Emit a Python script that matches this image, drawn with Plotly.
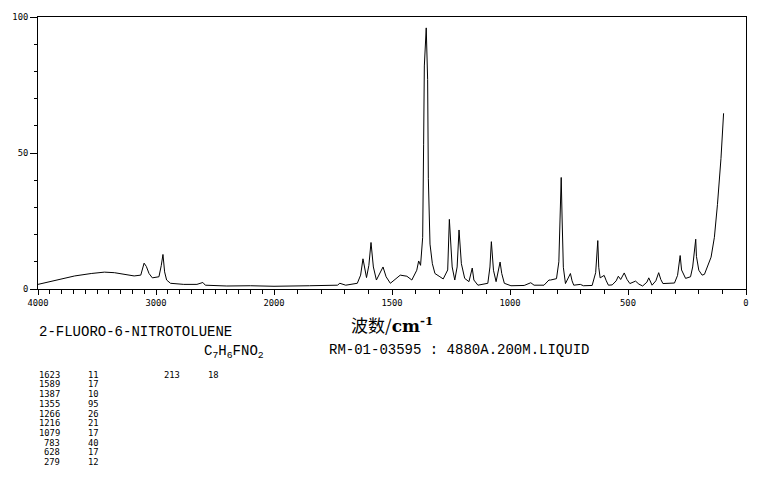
import plotly.graph_objects as go

# ---- Spectrum (Raman), wavenumber in cm-1, intensity in % ----
wavenumber = [
    4000, 3857, 3689, 3549, 3437, 3353, 3269, 3185, 3129, 3101, 3082, 3059, 3031,
    2975, 2955, 2941, 2927, 2910, 2877, 2765, 2653, 2603, 2582, 2513, 2400, 2200,
    2000, 1850, 1760, 1731, 1721, 1696, 1647, 1633, 1623, 1608, 1598, 1589, 1579,
    1566, 1538, 1525, 1507, 1486, 1465, 1437, 1416, 1395, 1387, 1379, 1370, 1366,
    1363, 1355, 1349, 1346, 1339, 1329, 1318, 1297, 1283, 1264, 1257, 1245, 1234,
    1224, 1216, 1206, 1192, 1174, 1160, 1153, 1136, 1094, 1085, 1079, 1070, 1059,
    1049, 1042, 1035, 1024, 996, 940, 912, 898, 856, 835, 828, 815, 803, 793, 788,
    783, 779, 774, 765, 752, 744, 737, 730, 702, 689, 652, 637, 628, 624, 618, 601,
    592, 583, 567, 550, 541, 531, 516, 504, 492, 468, 454, 438, 420, 412, 398, 382,
    370, 361, 352, 324, 303, 290, 279, 273, 256, 235, 226, 213, 210, 200, 186, 176,
    163, 148, 134, 121, 106, 95,
]
intensity = [
    1.7, 3.0, 4.8, 5.7, 6.2, 6.0, 5.4, 4.8, 5.1, 9.5, 8.3, 5.7, 4.1,
    4.5, 8.7, 12.7, 6.3, 3.3, 2.1, 1.7, 1.7, 2.4, 1.4, 1.3, 1.1, 1.2,
    1.0, 1.2, 1.3, 1.4, 2.1, 1.4, 2.1, 5.1, 11.1, 4.2, 8.7, 17.1, 8.1,
    3.3, 8.1, 4.5, 2.1, 3.5, 5.1, 4.7, 3.3, 6.9, 10.3, 8.7, 19.0, 53.0,
    82.0, 96.0, 77.0, 40.7, 16.5, 9.3, 5.7, 4.5, 3.7, 7.0, 25.6, 8.1, 3.3,
    8.1, 21.7, 9.3, 3.9, 2.7, 7.7, 3.3, 1.4, 2.1, 8.1, 17.4, 6.9, 2.7,
    6.3, 9.9, 5.7, 2.1, 1.2, 1.3, 2.3, 1.4, 1.4, 3.3, 3.3, 3.5, 3.8, 10.0, 30.0,
    41.0, 25.0, 8.0, 2.0, 4.0, 5.7, 3.0, 1.4, 1.7, 1.2, 1.3, 6.0, 17.8, 8.0, 4.1, 5.0,
    3.0, 1.4, 1.5, 3.0, 4.7, 3.5, 5.9, 3.5, 2.0, 2.9, 1.8, 1.1, 2.5, 4.1, 1.4, 3.0,
    6.0, 3.5, 2.0, 2.0, 2.2, 5.0, 12.3, 7.0, 3.9, 4.5, 8.1, 18.3, 12.0, 6.9, 5.1, 5.4,
    8.1, 11.7, 19.0, 31.0, 48.0, 64.6,
]

# ---- Peak table ----
peak_wn = [1623, 1589, 1387, 1355, 1266, 1216, 1079, 783, 628, 279, 213]
peak_int = [11, 17, 10, 95, 26, 21, 17, 40, 17, 12, 18]

# ---- Tick labels ----
x_labels = [4000, 3000, 2000, 1500, 1000, 500, 0]
x_minor = list(range(0, 4001, 100))
y_labels = [0, 50, 100]

compound = "2-FLUORO-6-NITROTOLUENE"
formula = "C<sub>7</sub>H<sub>6</sub>FNO<sub>2</sub>"
sample = "RM-01-03595 : 4880A.200M.LIQUID"


def axis_pos(w):
    # spectrometer scale: above 2000 cm-1 the axis is compressed by half
    return w if w <= 2000 else 2000 + (w - 2000) / 2


W, H = 761, 477
ML, MR, MT, MB = 33, 14, 13, 188
PW, PH = W - ML - MR, H - MT - MB


def px(x):
    return (x - ML) / PW


def py(y):
    return (H - MB - y) / PH


mono = "Liberation Mono, DejaVu Sans Mono, monospace"
small = "DejaVu Sans Mono, monospace"

fig = go.Figure()
fig.add_trace(go.Scatter(
    x=[axis_pos(w) for w in wavenumber], y=intensity,
    mode="lines", line=dict(color="black", width=1), hoverinfo="skip",
))

annotations = [
    dict(text="波数/<span style='font-family:DejaVu Serif;font-weight:bold'>cm<sup>-1</sup></span>",
         x=px(390), y=py(325), xanchor="center", yanchor="middle",
         font=dict(family="Noto Sans CJK SC", size=17, color="black")),
    dict(text=compound, x=px(32), y=py(333), xanchor="left", yanchor="middle",
         font=dict(family=mono, size=14, color="black")),
    dict(text=formula, x=px(198), y=py(353), xanchor="left", yanchor="middle",
         font=dict(family=mono, size=14, color="black")),
    dict(text=sample, x=px(324), y=py(351), xanchor="left", yanchor="middle",
         font=dict(family=mono, size=14, color="black")),
]

row_h = 9.84
for i, (wn, it) in enumerate(zip(peak_wn, peak_int)):
    if i < 10:
        yy = 376 + row_h * i
        c1, c2 = 57, 97
    else:
        yy = 376 + row_h * (i - 10)
        c1, c2 = 178, 218
    annotations.append(dict(text=str(wn), x=px(c1), y=py(yy), xanchor="right", yanchor="middle",
                            font=dict(family=small, size=8.8, color="black")))
    annotations.append(dict(text=str(it), x=px(c2), y=py(yy), xanchor="right", yanchor="middle",
                            font=dict(family=small, size=8.8, color="black")))

for a in annotations:
    a.update(xref="paper", yref="paper", showarrow=False)

fig.update_layout(
    width=W, height=H,
    margin=dict(l=ML, r=MR, t=MT, b=MB),
    paper_bgcolor="white", plot_bgcolor="white",
    showlegend=False,
    annotations=annotations,
    xaxis=dict(
        range=[axis_pos(4000), axis_pos(0)],
        tickmode="array",
        tickvals=[axis_pos(v) for v in x_labels],
        ticktext=[str(v) for v in x_labels],
        ticks="outside", ticklen=5, tickcolor="black", tickwidth=1,
        minor=dict(tickmode="array", tickvals=[axis_pos(v) for v in x_minor],
                   ticks="outside", ticklen=4, tickcolor="black", tickwidth=1),
        showline=True, linecolor="black", linewidth=1, mirror=True,
        showgrid=False, zeroline=False,
        tickfont=dict(family=small, size=8.8, color="black"),
    ),
    yaxis=dict(
        range=[0, 100],
        tickmode="array",
        tickvals=y_labels,
        ticktext=[str(v) for v in y_labels],
        ticks="outside", ticklen=7, tickcolor="black", tickwidth=1,
        minor=dict(dtick=10, tick0=0, ticks="outside", ticklen=3, tickcolor="black", tickwidth=1),
        showline=True, linecolor="black", linewidth=1, mirror=True,
        showgrid=False, zeroline=False,
        tickfont=dict(family=small, size=8.8, color="black"),
    ),
)

fig.write_html(
    "out.html",
    config={"displayModeBar": False},
    post_script="document.body.style.margin='0px';document.body.style.padding='0px';",
)
